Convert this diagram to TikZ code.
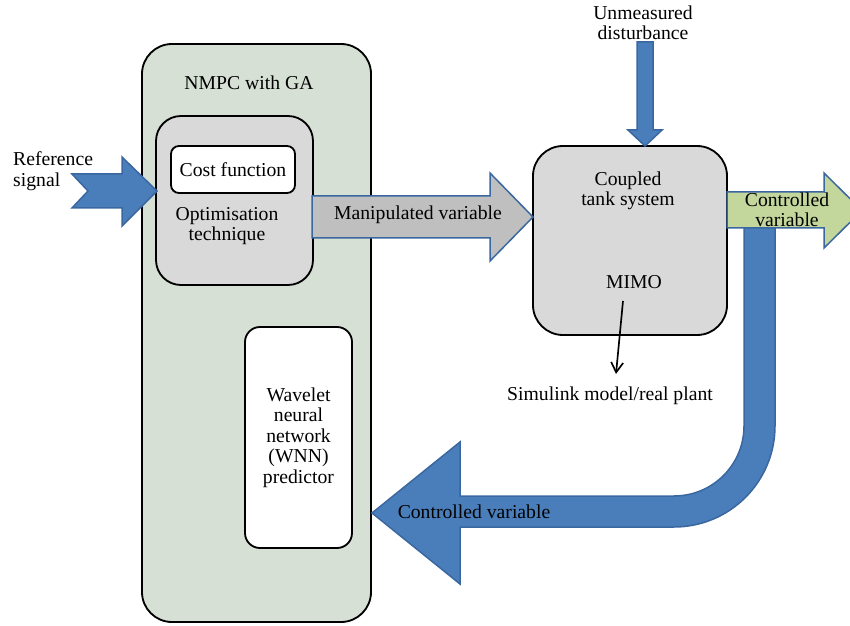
\documentclass[tikz,border=0pt]{standalone}
\usepackage{fontspec}
\setmainfont{Liberation Serif}
\usetikzlibrary{positioning, arrows.meta}
\definecolor{nmpcgreen}{HTML}{D6E0D4}
\definecolor{boxgray}{HTML}{D9D9D9}
\definecolor{arrowgray}{HTML}{BFBFBF}
\definecolor{arrowblue}{HTML}{4A7EBB}
\definecolor{edgeblue}{HTML}{3A67A0}
\definecolor{arrowgreen}{HTML}{C3D69B}

\begin{document}
\begin{tikzpicture}
    [
        x=0.3mm, y=-0.3mm, font=\fontsize{16.8}{17.5}\selectfont,
        nmpc_box/.style={rectangle, draw=black, fill=nmpcgreen, line width=0.55mm, rounded corners=9mm, minimum width=68.7mm, minimum height=173.4mm},
        grey_box/.style={rectangle, draw=black, fill=boxgray, line width=0.55mm},
        white_box/.style={rectangle, draw=black, fill=white, line width=0.55mm},
        blue_arrow/.style={draw=edgeblue, fill=arrowblue, line width=0.45mm, line join=miter},
        grey_arrow/.style={draw=edgeblue, fill=arrowgray, line width=0.45mm, line join=miter},
        green_arrow/.style={draw=edgeblue, fill=arrowgreen, line width=0.45mm, line join=miter},
        txt/.style={align=center, inner sep=0pt},
    ]
        \useasboundingbox (0,0) rectangle (850,626);
        \clip (0,0) rectangle (850,626);
        \node[nmpc_box] (nmpc) at (256.5,333) {};
        \node[txt] (nmpc_title) at (249,83) {NMPC with GA};
        \node[grey_box, rounded corners=7.5mm, minimum width=47.1mm, minimum height=50.7mm] (opt) at (234.5,200.5) {};
        \node[white_box, rounded corners=2.4mm, minimum width=37.2mm, minimum height=14.1mm] (cost) at (233,169.5) {Cost function};
        \node[txt] (opt_text) at (227,226) {Optimisation\\technique};
        \node[white_box, rounded corners=4.5mm, minimum width=32.1mm, minimum height=66.3mm, align=center] (wnn) at (298.5,437.5) {Wavelet\\neural\\network\\(WNN)\\predictor};
        \node[grey_box, rounded corners=9mm, minimum width=58.2mm, minimum height=56.7mm] (plant) at (630,240.5) {};
        \node[txt] (plant_text) at (628,191) {Coupled\\tank system};
        \node[txt] (mimo) at (634,282) {MIMO};
        \node[txt] (sim) at (610,396) {Simulink model/real plant};
        \node[txt] (dist) at (643,23) {Unmeasured\\disturbance};
        \node[txt, align=left, anchor=west] (ref) at (13,171) {Reference\\signal};
        \draw[blue_arrow] (72,174) -- (122,174) -- (122,157) -- (157,191) -- (122,226) -- (122,208) -- (72,208) -- (88,191) -- cycle;
        \draw[blue_arrow] (637,42) -- (653,42) -- (653,130) -- (662,130) -- (645,146) -- (628,130) -- (637,130) -- cycle;
        \draw[grey_arrow] (312,196) -- (490,196) -- (490,173) -- (533,217) -- (490,261) -- (490,238) -- (312,238) -- cycle;
        \node[txt] (manip) at (418,215) {Manipulated variable};
        \draw[blue_arrow] (744,215) -- (744,426) arc[start angle=0, end angle=-90, radius=21mm] -- (460,496) -- (460,442) -- (372,513) -- (460,584) -- (460,527) -- (674,527) arc[start angle=-90, end angle=0, radius=30.3mm] -- (775,215) -- cycle;
        \node[txt] (cv_back) at (474,512) {Controlled variable};
        \draw[green_arrow] (727,192) -- (824,192) -- (824,173) -- (862,210.5) -- (824,248) -- (824,228) -- (727,228) -- cycle;
        \node[txt] (cv_out) at (787,210) {Controlled\\variable};
        \draw[-{Straight Barb[length=3mm, width=3.6mm]}, line width=0.5mm, color=black] ([shift={(-11,19)}]mimo.center) -- ([shift={(6,-22)}]sim.center) ;
    \end{tikzpicture}
\end{document}
